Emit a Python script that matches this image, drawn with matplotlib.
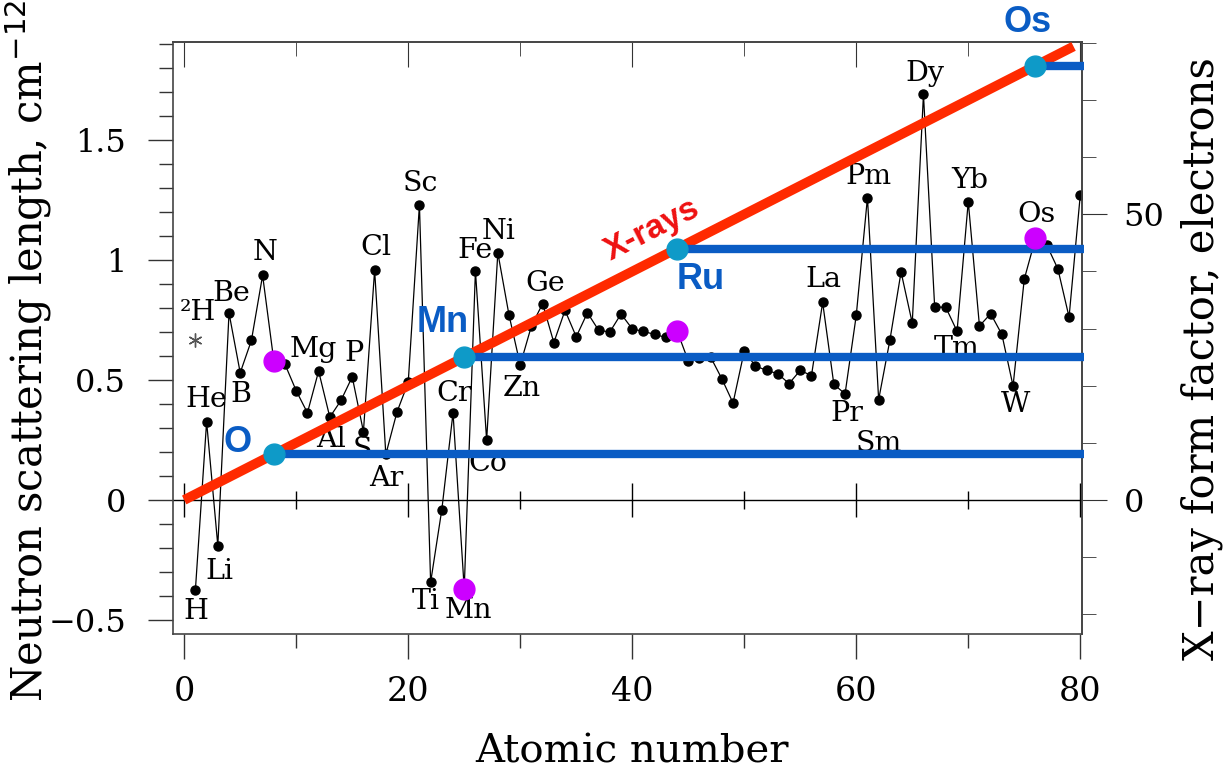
import numpy as np
import matplotlib
matplotlib.use('Agg')
import matplotlib.pyplot as plt
from matplotlib.ticker import MultipleLocator

# neutron scattering length (1e-12 cm) for Z = 1..80
atomic_number = list(range(1, 81))
neutron_b = [
    -0.374, 0.326, -0.190, 0.779, 0.530, 0.665, 0.936, 0.580, 0.565, 0.455,   # 1-10
    0.363, 0.537, 0.345, 0.415, 0.513, 0.285, 0.958, 0.190, 0.367, 0.490,     # 11-20
    1.230, -0.343, -0.040, 0.363, -0.370, 0.955, 0.249, 1.030, 0.770, 0.563,  # 21-30
    0.725, 0.818, 0.656, 0.790, 0.680, 0.780, 0.707, 0.700, 0.775, 0.713,     # 31-40
    0.702, 0.690, 0.677, 0.705, 0.580, 0.590, 0.595, 0.505, 0.404, 0.620,     # 41-50
    0.558, 0.540, 0.526, 0.485, 0.540, 0.518, 0.823, 0.482, 0.442, 0.769,     # 51-60
    1.260, 0.418, 0.665, 0.950, 0.737, 1.690, 0.805, 0.802, 0.703, 1.243,     # 61-70
    0.725, 0.776, 0.690, 0.475, 0.920, 1.090, 1.063, 0.963, 0.762, 1.270,     # 71-80
]
deuterium_z = 1
deuterium_b = 0.667

# x-ray form factor ~ Z electrons; one electron on the left scale
xray_per_electron = 0.0238
xray_z = [0, 79.4]

marked_names = ['O', 'Mn', 'Ru', 'Os']
marked_z = [8, 25, 44, 76]

element_labels = [
    ('\u00b2H', 1.2, 0.78), ('He', 1.95, 0.417), ('Li', 3.15, -0.30), ('H', 1.07, -0.465),
    ('Be', 4.2, 0.86), ('B', 5.1, 0.4375), ('N', 7.2, 1.03), ('Mg', 11.5, 0.625),
    ('P', 15.2, 0.61), ('Al', 13.1, 0.25), ('S', 15.9, 0.21), ('Ar', 18.0, 0.09),
    ('Cl', 17.1, 1.05), ('Sc', 21.1, 1.32), ('Ti', 21.6, -0.424), ('Cr', 24.1, 0.445),
    ('Mn', 25.4, -0.46), ('Fe', 26.0, 1.04), ('Co', 27.1, 0.153), ('Ni', 28.1, 1.118),
    ('Zn', 30.1, 0.465), ('Ge', 32.2, 0.90), ('La', 57.1, 0.917), ('Pr', 59.2, 0.36),
    ('Pm', 61.1, 1.347), ('Sm', 62.0, 0.236), ('Dy', 66.1, 1.778), ('Tm', 69.0, 0.632),
    ('Yb', 70.1, 1.333), ('W', 74.2, 0.396), ('Os', 76.1, 1.1875),
]
blue_label_pos = [(4.8, 0.2375), (23.1, 0.74), (46.1, 0.917), (75.3, 1.99)]

serif = 'DejaVu Serif'
blue = '#0a5cc4'
fig, ax = plt.subplots(figsize=(12.26, 7.74), dpi=100)
fig.subplots_adjust(left=0.1413, right=0.8825, top=0.9457, bottom=0.181)

ax.set_xlim(-0.98, 80.15)
ax.set_ylim(-0.558, 1.908)

# zero line with its own little ticks
ax.axhline(0, color='black', lw=1.0, zorder=1)
ax.plot([0, 20, 40, 60, 80], [0] * 5, ls='none', marker='|', ms=25, mew=1.0, color='black', zorder=1)
ax.plot([10, 30, 50, 70], [0] * 4, ls='none', marker='|', ms=13, mew=1.0, color='black', zorder=1)

ax.plot(atomic_number, neutron_b, '-o', color='black', lw=0.9, ms=6.5, zorder=2)
ax.plot(deuterium_z, deuterium_b, marker=(6, 2, 0), color='#555555', mew=1.0, ms=10, ls='none', zorder=2)

for name, z, y in element_labels:
    ax.text(z, y, name, ha='center', va='center', fontsize=20.5, family=serif, zorder=2)

# x-ray line and marked elements
ax.plot(xray_z, [z * xray_per_electron for z in xray_z], color='#ff2a00', lw=7,
        solid_capstyle='butt', zorder=3)
ax.text(41.8, 1.125, 'X-rays', color='#ee1111', fontsize=24, fontweight='bold',
        family='Liberation Sans', rotation=27, ha='center', va='center', zorder=6)

for name, z, pos in zip(marked_names, marked_z, blue_label_pos):
    yx = z * xray_per_electron
    ax.plot([z, 80.3], [yx, yx], color=blue, lw=6, solid_capstyle='butt', zorder=4, clip_on=False)
    ax.plot(z, yx, 'o', color='#0e9ac8', ms=15, zorder=5)
    ax.plot(z, neutron_b[z - 1], 'o', color='#cc00ff', ms=15, zorder=5)
    ax.text(pos[0], pos[1], name, color=blue, fontsize=26, fontweight='bold',
            family='Liberation Sans', ha='center', va='center', clip_on=False, zorder=6)

# axes and ticks
ax.xaxis.set_major_locator(MultipleLocator(20))
ax.xaxis.set_minor_locator(MultipleLocator(10))
ax.yaxis.set_minor_locator(MultipleLocator(0.1))
ax.set_yticks([-0.5, 0, 0.5, 1, 1.5])
ax.set_yticklabels(['\u22120.5', '0', '0.5', '1', '1.5'])
ax.tick_params(axis='both', which='both', direction='out', top=False, right=False, color='#333333')
ax.tick_params(axis='x', which='major', length=18, width=1.0, pad=12, labelsize=24)
ax.tick_params(axis='x', which='minor', length=10, width=1.0)
ax.tick_params(axis='y', which='major', length=18, width=1.0, pad=16, labelsize=23)
ax.tick_params(axis='y', which='minor', length=10, width=1.0)
for lab in ax.get_xticklabels() + ax.get_yticklabels():
    lab.set_family(serif)

top = ax.secondary_xaxis('top')
top.xaxis.set_major_locator(MultipleLocator(20))
top.xaxis.set_minor_locator(MultipleLocator(10))
top.tick_params(which='major', direction='in', length=18, labeltop=False, color='#333333')
top.tick_params(which='minor', direction='in', length=10, color='#333333')

right = ax.secondary_yaxis('right', functions=(lambda y: y / xray_per_electron,
                                               lambda e: e * xray_per_electron))
right.set_yticks([0, 50])
right.yaxis.set_minor_locator(MultipleLocator(10))
right.tick_params(which='major', direction='out', length=18, pad=12, labelsize=23, color='#333333')
right.tick_params(which='minor', direction='out', length=10, color='#333333')
for lab in right.get_yticklabels():
    lab.set_family(serif)

for sp in list(ax.spines.values()) + [right.spines['right'], top.spines['top']]:
    sp.set_color('#444444')
    sp.set_linewidth(1.2)

fig.text(0.5 * (183 + 1081) / 1226, 1 - 752 / 774, 'Atomic number', family=serif, fontsize=29,
         ha='center', va='center')
fig.text(28 / 1226, 1 - 702 / 774, 'Neutron scattering length, cm$^{-12}$', family=serif,
         fontsize=30, rotation=90, ha='center', va='bottom')
fig.text(1202 / 1226, 1 - 660 / 774, 'X\u2212ray form factor, electrons', family=serif,
         fontsize=30, rotation=90, ha='center', va='bottom')

fig.savefig('out.png', dpi=100)
